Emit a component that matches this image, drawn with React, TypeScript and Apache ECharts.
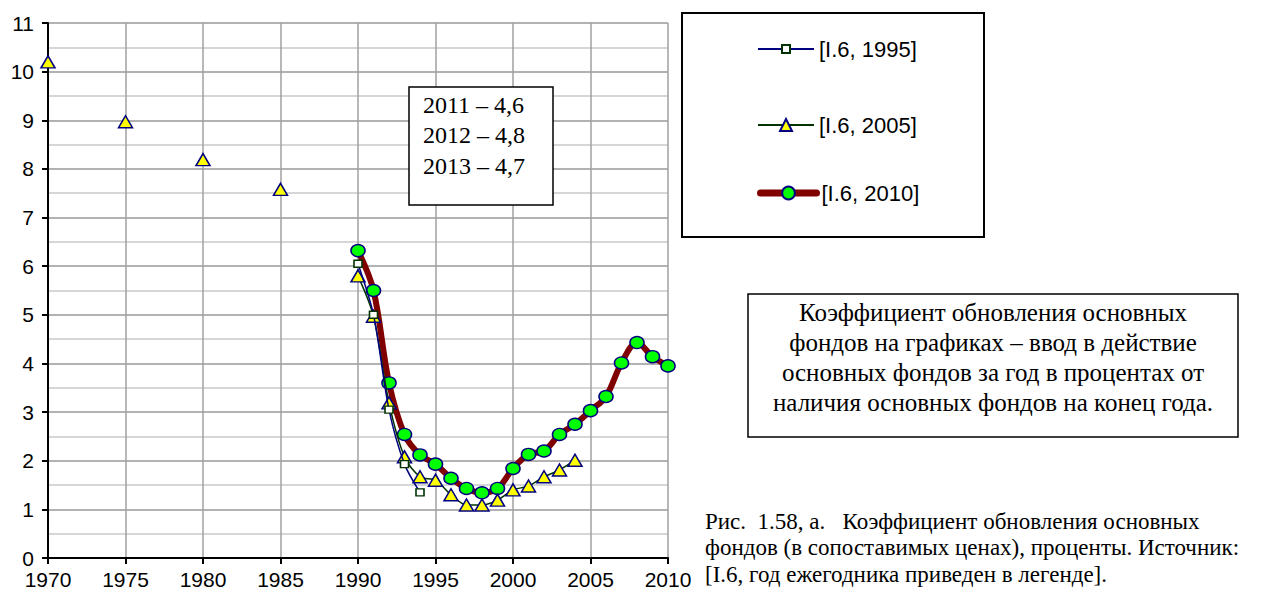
import React, { useEffect, useRef } from "react";
import * as echarts from "echarts";

const xTicks = [1970, 1975, 1980, 1985, 1990, 1995, 2000, 2005, 2010];

const years1995 = [1990, 1991, 1992, 1993, 1994];
const values1995 = [6.05, 5.0, 3.05, 1.93, 1.35];

const years2005 = [1970, 1975, 1980, 1985, 1990, 1991, 1992, 1993, 1994, 1995, 1996, 1997, 1998, 1999, 2000, 2001, 2002, 2003, 2004];
const values2005 = [10.2, 8.97, 8.19, 7.58, 5.8, 4.97, 3.19, 2.08, 1.67, 1.6, 1.3, 1.09, 1.09, 1.19, 1.4, 1.48, 1.67, 1.81, 2.01];

const years2010 = [1990, 1991, 1992, 1993, 1994, 1995, 1996, 1997, 1998, 1999, 2000, 2001, 2002, 2003, 2004, 2005, 2006, 2007, 2008, 2009, 2010];
const values2010 = [6.32, 5.5, 3.6, 2.54, 2.12, 1.93, 1.64, 1.43, 1.34, 1.43, 1.84, 2.13, 2.2, 2.54, 2.75, 3.03, 3.32, 4.01, 4.43, 4.14, 3.95];

const seriesNames = ["[I.6, 1995]", "[I.6, 2005]", "[I.6, 2010]"];

const noteLines = ["2011 – 4,6", "2012 – 4,8", "2013 – 4,7"];
const descLines = [
  "Коэффициент обновления основных",
  "фондов на графиках – ввод в действие",
  "основных фондов за год в процентах от",
  "наличия основных фондов на конец года.",
];
const captionLines = [
  "Рис.  1.58, а.   Коэффициент обновления основных",
  "фондов (в сопоставимых ценах), проценты. Источник:",
  "[I.6, год ежегодника приведен в легенде].",
];

// Build [x, y] pairs; a missing year between two points breaks the line.
function toData(years: number[], values: number[]) {
  const out: any[] = [];
  for (let i = 0; i < years.length; i++) {
    if (i > 0 && years[i] - years[i - 1] > 1) out.push([years[i - 1] + 1, "-"]);
    out.push([years[i], values[i]]);
  }
  return out;
}

const SERIF = "Liberation Serif";
const SANS = "Liberation Sans";

export default function App() {
  const ref = useRef<HTMLDivElement>(null);
  useEffect(() => {
    if (!ref.current) return;
    const chart = echarts.init(ref.current, null, { renderer: "svg" });
    const graphics: any[] = [];
    // note box
    graphics.push({
      type: "rect",
      shape: { x: 409, y: 87, width: 144, height: 118 },
      style: { fill: "#fff", stroke: "#000", lineWidth: 1.5 },
      z: 100,
    });
    const noteY = [105, 135, 166];
    noteLines.forEach((t, i) =>
      graphics.push({
        type: "text",
        x: 423,
        y: noteY[i],
        z: 101,
        style: { text: t, fontFamily: SERIF, fontSize: 24, fill: "#000", verticalAlign: "middle" },
      })
    );
    // legend box
    graphics.push({
      type: "rect",
      shape: { x: 682, y: 13, width: 302, height: 224 },
      style: { fill: "#fff", stroke: "#000", lineWidth: 2 },
      z: 0,
    });
    // description box
    const dL = 748, dR = 1238;
    graphics.push({
      type: "rect",
      shape: { x: dL, y: 294, width: dR - dL, height: 143 },
      style: { fill: "#fff", stroke: "#000", lineWidth: 1.5 },
    });
    const descY = [312, 342, 372, 402];
    descLines.forEach((t, i) =>
      graphics.push({
        type: "text",
        x: (dL + dR) / 2,
        y: descY[i],
        style: { text: t, fontFamily: SERIF, fontSize: 25, fill: "#000", align: "center", verticalAlign: "middle" },
      })
    );
    const capY = [521, 547, 574];
    captionLines.forEach((t, i) =>
      graphics.push({
        type: "text",
        x: 705,
        y: capY[i],
        style: { text: t, fontFamily: SERIF, fontSize: 23, fill: "#000", align: "left", verticalAlign: "middle" },
      })
    );

    const navy = "#000080";
    const legendCommon = {
      orient: "vertical",
      left: 757,
      padding: 0,
      itemWidth: 56,
      itemGap: 0,
      textStyle: { fontFamily: SANS, fontSize: 22, color: "#000" },
      selectedMode: false,
    };

    chart.setOption({
      animation: false,
      backgroundColor: "#fff",
      grid: { left: 48, right: 600, top: 23, bottom: 34 },
      xAxis: {
        type: "value",
        min: xTicks[0],
        max: xTicks[xTicks.length - 1],
        interval: 5,
        axisLine: { show: true, onZero: false, lineStyle: { color: "#000", width: 2 } },
        axisTick: { show: true, length: 6, lineStyle: { color: "#000", width: 2 } },
        axisLabel: { fontFamily: SANS, fontSize: 21, color: "#000", margin: 11, formatter: (v: number) => String(v) },
        splitLine: { show: true, lineStyle: { color: "#a0a0a0", width: 1.5 } },
      },
      yAxis: {
        type: "value",
        min: 0,
        max: 11,
        interval: 1,
        axisLine: { show: true, lineStyle: { color: "#000", width: 2 } },
        axisTick: { show: true, length: 6, lineStyle: { color: "#000", width: 2 } },
        axisLabel: { fontFamily: SANS, fontSize: 21, color: "#000", margin: 14 },
        splitLine: { show: true, lineStyle: { color: "#999999", width: 1.5 } },
        minorTick: { show: false, splitNumber: 2 },
        minorSplitLine: { show: true, lineStyle: { color: "#c8c8c8", width: 1.5 } },
      },
      legend: [
        { ...legendCommon, top: 38, itemHeight: 10, data: [seriesNames[0]] },
        { ...legendCommon, top: 114, itemHeight: 15, data: [seriesNames[1]] },
        {
          ...legendCommon,
          top: 182,
          itemHeight: 16,
          data: [seriesNames[2]],
          lineStyle: { width: 7, color: "#800000", cap: "round" },
        },
      ],
      graphic: graphics,
      series: [
        {
          name: seriesNames[2],
          type: "line",
          smooth: 0.35,
          connectNulls: false,
          data: toData(years2010, values2010),
          symbol: "circle",
          symbolSize: [14, 12],
          lineStyle: { color: "#800000", width: 6, cap: "round", join: "round" },
          itemStyle: { color: "#00ff00", borderColor: navy, borderWidth: 1.5 },
          z: 2,
        },
        {
          name: seriesNames[1],
          type: "line",
          smooth: 0.3,
          connectNulls: false,
          data: toData(years2005, values2005),
          symbol: "triangle",
          symbolSize: [14, 12],
          lineStyle: { color: "#003300", width: 1.5 },
          itemStyle: { color: "#ffff00", borderColor: navy, borderWidth: 1.5 },
          z: 3,
        },
        {
          name: seriesNames[0],
          type: "line",
          smooth: 0.3,
          connectNulls: false,
          data: toData(years1995, values1995),
          symbol: "rect",
          symbolSize: [8, 7],
          lineStyle: { color: navy, width: 1.5 },
          itemStyle: { color: "#ffffff", borderColor: "#003300", borderWidth: 1.5 },
          z: 4,
        },
      ],
    });
    return () => chart.dispose();
  }, []);
  return (
    <div
      ref={ref}
      style={{ position: "fixed", left: 0, top: 0, width: 1268, height: 592, background: "#fff" }}
    />
  );
}
